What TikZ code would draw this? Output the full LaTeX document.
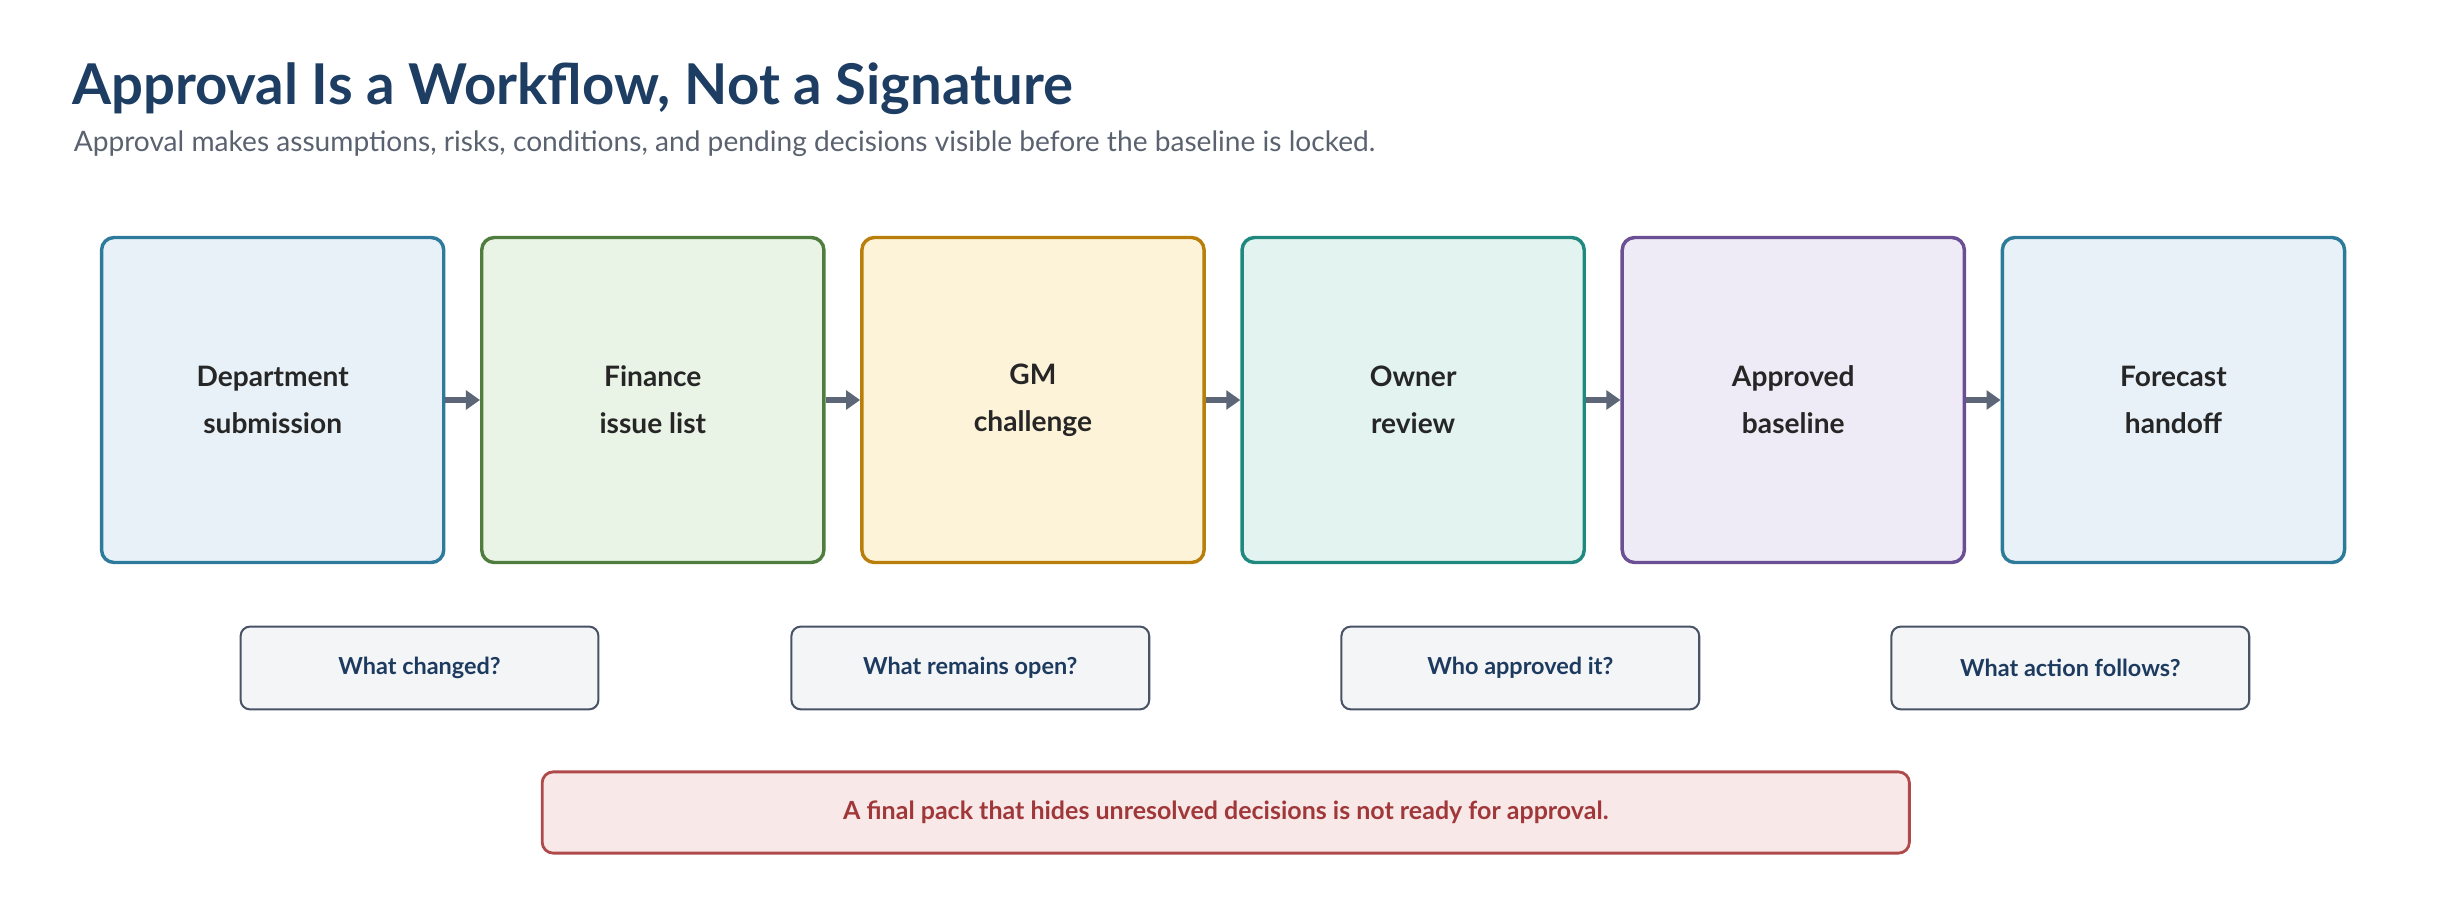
\documentclass[tikz,border=0pt]{standalone}
\usepackage{fontspec}
\setmainfont{Lato}
\usetikzlibrary{arrows.meta}
\definecolor{titleblue}{HTML}{1D3D63}
\definecolor{subgray}{HTML}{5A6270}
\definecolor{arrowgray}{HTML}{5C6676}
\definecolor{qfill}{HTML}{F3F5F7}
\definecolor{qline}{HTML}{4A5366}
\definecolor{qtext}{HTML}{1D3A5F}
\definecolor{warnfill}{HTML}{F8E8E8}
\definecolor{warnline}{HTML}{B04A4A}
\definecolor{warntext}{HTML}{A0383A}
\definecolor{lineA}{HTML}{2E7A9A}\definecolor{fillA}{HTML}{E8F1F8}
\definecolor{lineB}{HTML}{4E7D3E}\definecolor{fillB}{HTML}{E9F3E6}
\definecolor{lineC}{HTML}{B97F0A}\definecolor{fillC}{HTML}{FDF3D8}
\definecolor{lineD}{HTML}{20897F}\definecolor{fillD}{HTML}{E3F3F0}
\definecolor{lineE}{HTML}{6A4F94}\definecolor{fillE}{HTML}{EEEAF6}
\begin{document}
\begin{tikzpicture}[x=1pt, y=-1pt,
    stage/.style = {draw, line width=2.2pt, rounded corners=8pt, minimum width=219pt,
        minimum height=208pt, align=center, font=\fontsize{18}{30}\selectfont\bfseries, text=black!85},
    question/.style = {draw=qline, fill=qfill, line width=1.3pt, rounded corners=6pt,
        minimum width=229pt, minimum height=53pt, text=qtext, font=\fontsize{15}{18}\selectfont\bfseries},
    flow/.style = {-{Triangle[length=9pt,width=12pt]}, line width=3.5pt, arrowgray}]
    \useasboundingbox (0,0) rectangle (1568,576);
    \node[anchor=base west, text=titleblue, font=\fontsize{36}{40}\selectfont\bfseries, inner sep=0pt]
        (title) at (46,67) {Approval Is a Workflow, Not a Signature};
    \node[anchor=base west, text=subgray, font=\fontsize{18}{22}\selectfont, inner sep=0pt]
        (subtitle) at (47,97) {Approval makes assumptions, risks, conditions, and pending decisions visible before the baseline is locked.};
    \foreach \i/\lab/\col in {1/{Department\\submission}/A, 2/{Finance\\issue list}/B,
        3/{GM\\challenge}/C, 4/{Owner\\review}/D, 5/{Approved\\baseline}/E, 6/{Forecast\\handoff}/A}
        \node[stage, draw=line\col, fill=fill\col] (s\i) at (174.5+243.3*\i-243.3,256) {\lab};
    \foreach \i [evaluate=\i as \j using int(\i+1)] in {1,...,5}
        \draw[flow] (s\i.east) -- (s\j.west);
    \node[question] (q1) at (268.5,427.5) {What changed?};
    \node[question] (q2) at (621,427.5) {What remains open?};
    \node[question] (q3) at (973,427.5) {Who approved it?};
    \node[question] (q4) at (1325,427.5) {What action follows?};
    \node[draw=warnline, fill=warnfill, line width=1.8pt, rounded corners=7pt, minimum width=875pt,
        minimum height=52pt, text=warntext, font=\fontsize{16}{20}\selectfont\bfseries]
        (warning) at (784.5,520) {A final pack that hides unresolved decisions is not ready for approval.};
\end{tikzpicture}
\end{document}
